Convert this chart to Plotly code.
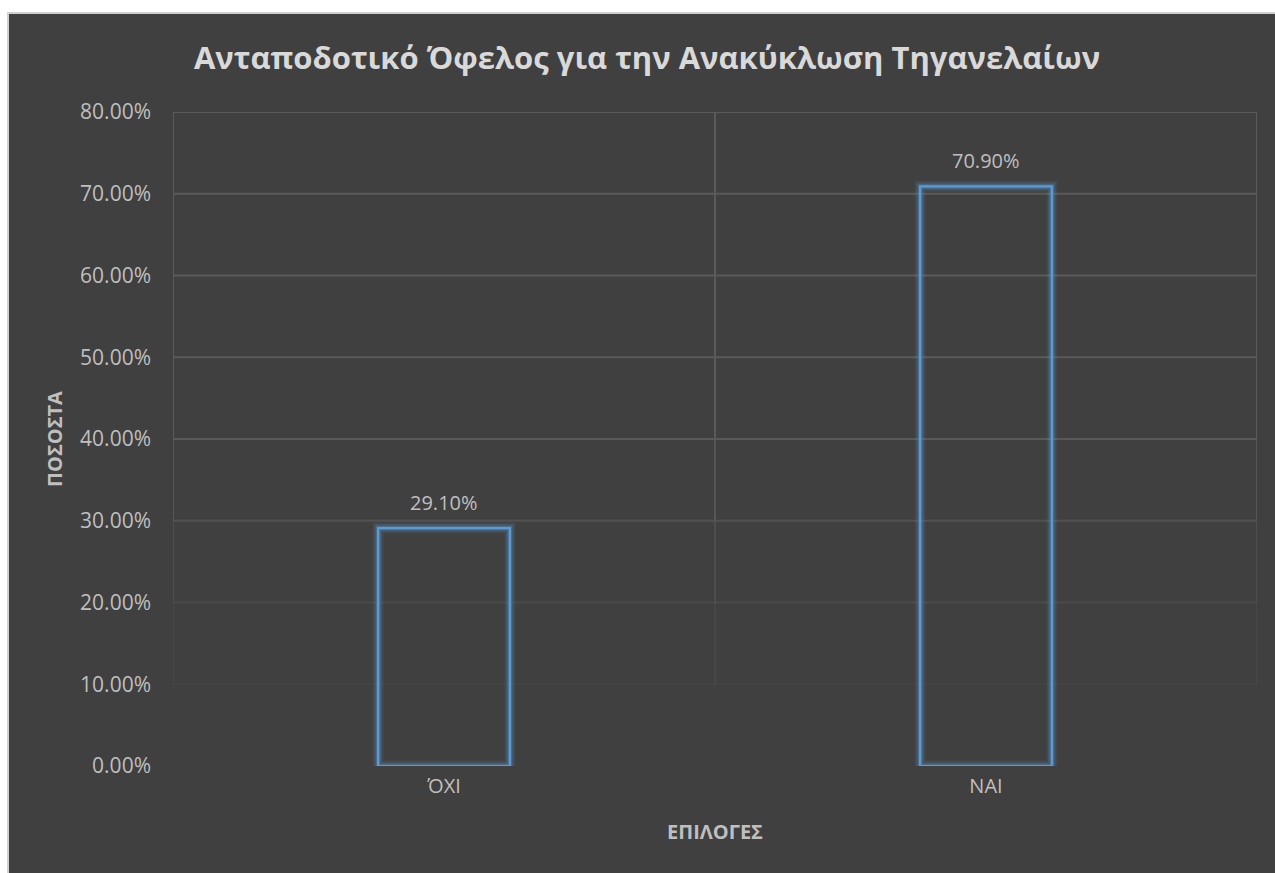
import plotly.graph_objects as go

# Survey answers and their shares (%)
categories = ["ΌΧΙ", "ΝΑΙ"]
shares = [29.10, 70.90]
y_ticks = [0, 10, 20, 30, 40, 50, 60, 70, 80]
y_tick_labels = [f"{v:.2f}%" for v in y_ticks]

BG = "#404040"
GRID = "#5a5a5a"
TEXT = "#bfbfbf"
BLUE = "#5b9bd5"
FONT = "Open Sans"
BAR_W = 0.243

x_pos = list(range(len(categories)))

fig = go.Figure()

# soft glow around the bar outlines, then the crisp outline on top
for lw, col in [(11, "rgba(91,155,213,0.10)"), (7.5, "rgba(91,155,213,0.18)"),
                (4.5, "rgba(91,155,213,0.30)"), (2.2, BLUE)]:
    fig.add_trace(go.Bar(
        x=x_pos, y=shares, width=BAR_W,
        marker=dict(color="rgba(0,0,0,0)", line=dict(color=col, width=lw)),
        hoverinfo="skip" if col != BLUE else None,
        showlegend=False,
    ))

# value labels above the bars
for xi, v in zip(x_pos, shares):
    fig.add_annotation(x=xi, y=v, text=f"{v:.2f}%", showarrow=False,
                       yanchor="bottom", yshift=10,
                       font=dict(family=FONT, size=20, color=TEXT))

# gridlines that fade out towards the baseline
def grid_alpha(v):
    return max(0.0, min(1.0, (v - 3) / 38.0)) ** 1.1

shapes = [dict(type="rect", xref="paper", yref="paper",
               x0=(8 - 173) / 1084, x1=(1276 - 173) / 1084,
               y0=(766 - 13) / 654, y1=(766 - 880) / 654,
               fillcolor=BG, line=dict(color="#d0d0d0", width=2), layer="below")]
for v in y_ticks:
    a = grid_alpha(v)
    if a > 0:
        shapes.append(dict(type="line", xref="x", yref="y",
                           x0=-0.5, x1=len(categories) - 0.5, y0=v, y1=v,
                           line=dict(color=GRID, width=2), opacity=a, layer="below"))
for i in range(len(categories) + 1):
    xv = i - 0.5
    for lo, hi in zip(y_ticks[:-1], y_ticks[1:]):
        a = grid_alpha((lo + hi) / 2)
        if a > 0:
            shapes.append(dict(type="line", xref="x", yref="y",
                               x0=xv, x1=xv, y0=lo, y1=hi,
                               line=dict(color=GRID, width=2), opacity=a, layer="below"))

fig.update_layout(
    width=1275, height=873,
    margin=dict(l=173, r=18, t=112, b=107),
    paper_bgcolor="white", plot_bgcolor="rgba(0,0,0,0)",
    barmode="overlay",
    shapes=shapes,
    title=dict(text="<b>Ανταποδοτικό Όφελος για την Ανακύκλωση Τηγανελαίων</b>",
               x=647 / 1275, xref="container", xanchor="center",
               y=1 - 58 / 873, yref="container", yanchor="middle",
               font=dict(family=FONT, size=31, color="#d9d9d9")),
    xaxis=dict(range=[-0.5, len(categories) - 0.5], tickvals=x_pos, ticktext=categories,
               showgrid=False, zeroline=False, showline=False, ticks="",
               ticklabelstandoff=6,
               tickfont=dict(family=FONT, size=20, color=TEXT),
               title=dict(text="<b>ΕΠΙΛΟΓΕΣ</b>", standoff=26,
                          font=dict(family=FONT, size=20, color=TEXT))),
    yaxis=dict(range=[0, 80], tickvals=y_ticks, ticktext=y_tick_labels,
               showgrid=False, zeroline=False, showline=False, ticks="",
               ticklabelstandoff=21,
               tickfont=dict(family=FONT, size=21, color=TEXT),
               title=dict(text="<b>ΠΟΣΟΣΤΑ</b>", standoff=12,
                          font=dict(family=FONT, size=20, color=TEXT))),
)

fig.write_html("out.html")
